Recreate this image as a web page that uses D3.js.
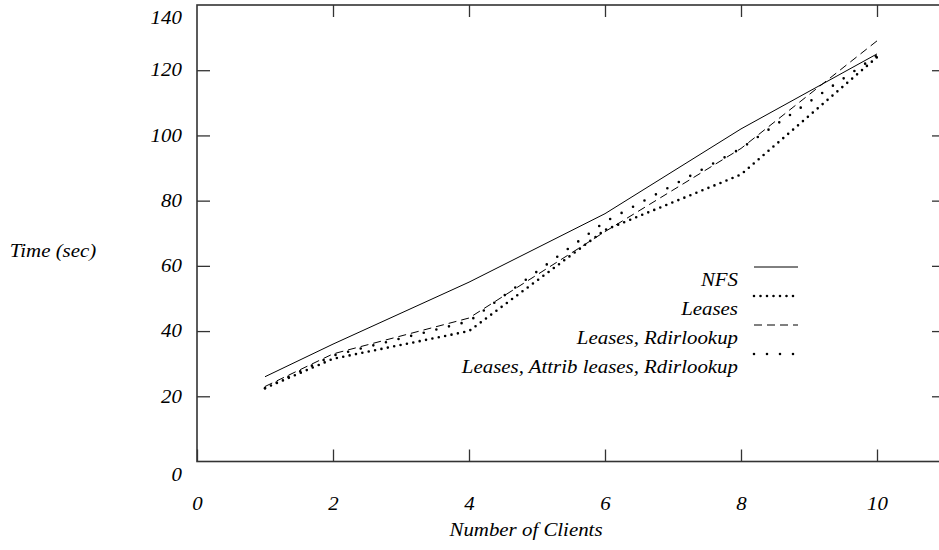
<!DOCTYPE html>
<html>
<head>
<meta charset="utf-8">
<script src="https://cdn.jsdelivr.net/npm/d3@7"></script>
<style>
  body { margin: 0; background: #fff; }
  svg { display: block; }
  svg text { font-family: "Liberation Serif", "Times New Roman", serif; font-style: italic; fill: #000; }
</style>
</head>
<body>
<div id="chart"></div>
<script>
const clients = [1, 2, 4, 6, 8, 10]
const nfs = [26, 36, 55, 76, 102, 125]
const leases = [22.5, 31.5, 40, 71, 88, 124]
const leasesRdir = [23, 33, 44, 70.5, 96, 129]
const leasesAttribRdir = [22.5, 32.5, 43, 73.5, 96, 124.5]
const seriesNames = ["NFS", "Leases", "Leases, Rdirlookup", "Leases, Attrib leases, Rdirlookup"]
const xTicks = [0, 2, 4, 6, 8, 10]
const yTicks = [0, 20, 40, 60, 80, 100, 120, 140]

const width = 939
const height = 550
const margin = { left: 197, top: 5, bottom: 88.5 }
const fontSize = 18
const stretch = "scale(1.16,1)"

const svg = d3.select("#chart").append("svg")
    .attr("width", width)
    .attr("height", height)

const x = d3.scaleLinear().domain([0, 11]).range([margin.left, 945])
const y = d3.scaleLinear().domain([0, 140]).range([height - margin.bottom, margin.top])

// frame
svg.append("rect")
    .attr("x", x(0))
    .attr("y", y(140))
    .attr("width", x(11) - x(0))
    .attr("height", y(0) - y(140))
    .attr("fill", "none")
    .attr("stroke", "#333")
    .attr("stroke-width", 1.6)

function styleAxis(g) {
    g.attr("font-family", null)
    g.select(".domain").remove()
    g.selectAll("line").attr("stroke", "#333").attr("stroke-width", 1.3)
    g.selectAll("text")
        .attr("font-size", fontSize)
        .attr("transform", stretch)
}

svg.append("g")
    .attr("transform", `translate(0,${y(0)})`)
    .call(d3.axisBottom(x).tickValues(xTicks).tickSizeInner(-12).tickSizeOuter(0).tickPadding(36))
    .call(styleAxis)

svg.append("g")
    .attr("transform", `translate(0,${y(140)})`)
    .call(d3.axisTop(x).tickValues(xTicks.slice(1)).tickSizeInner(-12).tickSizeOuter(0).tickFormat(""))
    .call(styleAxis)

const leftAxis = svg.append("g")
    .attr("transform", `translate(${x(0)},0)`)
    .call(d3.axisLeft(y).tickValues(yTicks).tickSizeInner(-13).tickSizeOuter(0).tickPadding(13))
    .call(styleAxis)

// end labels sit a bit lower than their ticks
leftAxis.selectAll(".tick")
    .filter(d => d === 0 || d === 140)
    .select("text")
    .attr("dy", "1.05em")
leftAxis.selectAll(".tick")
    .filter(d => d === 0 || d === 140)
    .select("line")
    .remove()

svg.append("g")
    .attr("transform", `translate(${x(11)},0)`)
    .call(d3.axisRight(y).tickValues(yTicks.slice(1, -1)).tickSizeInner(-13).tickSizeOuter(0).tickFormat(""))
    .call(styleAxis)

// axis titles
svg.append("text")
    .attr("transform", `translate(526,536) ${stretch}`)
    .attr("text-anchor", "middle")
    .attr("font-size", fontSize)
    .text("Number of Clients")

svg.append("text")
    .attr("transform", `translate(53,257) ${stretch}`)
    .attr("text-anchor", "middle")
    .attr("font-size", fontSize)
    .text("Time (sec)")

// series
const styles = [
    { dash: null, width: 1, cap: "butt" },
    { dash: "0 6.5", width: 2.6, cap: "round" },
    { dash: "8 5", width: 1, cap: "butt" },
    { dash: "0 13", width: 2.6, cap: "round" }
]
const allSeries = [nfs, leases, leasesRdir, leasesAttribRdir]

const line = d3.line()
    .x((d, i) => x(clients[i]))
    .y(d => y(d))

svg.selectAll("path.series")
    .data(allSeries)
    .join("path")
    .attr("class", "series")
    .attr("d", d => line(d))
    .attr("fill", "none")
    .attr("stroke", "#000")
    .attr("stroke-width", (d, i) => styles[i].width)
    .attr("stroke-dasharray", (d, i) => styles[i].dash)
    .attr("stroke-linecap", (d, i) => styles[i].cap)

// legend
const legend = svg.append("g").attr("transform", "translate(738,267)")
const rows = legend.selectAll("g")
    .data(seriesNames)
    .join("g")
    .attr("transform", (d, i) => `translate(0,${i * 29})`)

rows.append("line")
    .attr("x1", 16)
    .attr("x2", 60)
    .attr("y1", 0)
    .attr("y2", 0)
    .attr("stroke", "#000")
    .attr("stroke-width", (d, i) => styles[i].width)
    .attr("stroke-dasharray", (d, i) => styles[i].dash)
    .attr("stroke-linecap", (d, i) => styles[i].cap)

rows.append("text")
    .attr("transform", `translate(0,19) ${stretch}`)
    .attr("text-anchor", "end")
    .attr("font-size", fontSize)
    .text(d => d)
</script>
</body>
</html>
